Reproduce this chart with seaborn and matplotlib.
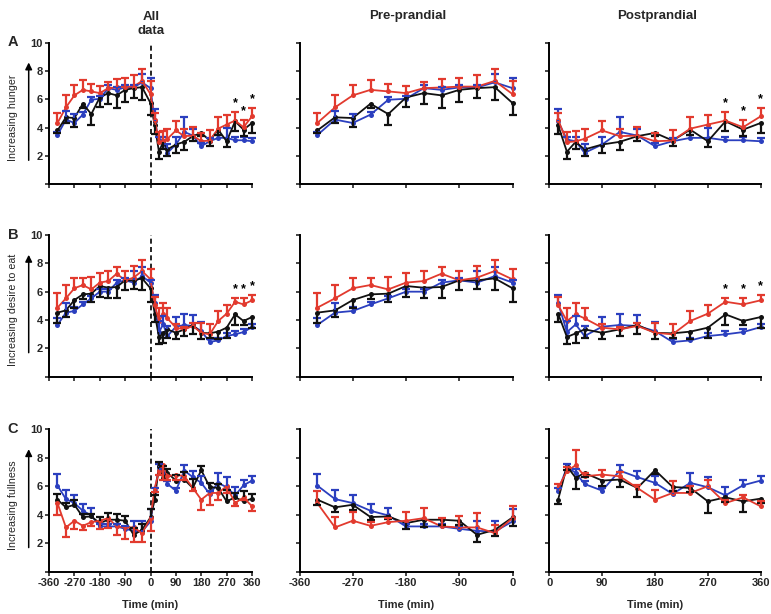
import matplotlib
matplotlib.use("Agg")
import matplotlib.pyplot as plt
import seaborn as sns
import pandas as pd
import numpy as np

pre_time = [-330, -300, -270, -240, -210, -180, -150, -120, -90, -60, -30, 0]
post_time = [15, 30, 45, 60, 90, 120, 150, 180, 210, 240, 270, 300, 330, 360]

groups = ["blue", "black", "red"]
colors = {"red": "#e23a2e", "blue": "#2b3fbf", "black": "#111111"}

# row A - hunger
hunger_pre_red = [4.33, 5.43, 6.28, 6.67, 6.56, 6.44, 6.79, 6.84, 6.9, 6.9, 7.3, 6.37]
hunger_pre_red_err = [0.7, 0.85, 0.75, 0.7, 0.5, 0.5, 0.4, 0.6, 0.6, 0.8, 0.85, 0.9]
hunger_pre_blue = [3.47, 4.57, 4.33, 4.92, 5.97, 6.04, 6.79, 6.67, 6.84, 6.84, 7.2, 6.79]
hunger_pre_blue_err = [0.2, 0.6, 0.65, 0.2, 0.2, 0.2, 0.2, 0.2, 0.2, 0.2, 0.6, 0.75]
hunger_pre_black = [3.8, 4.73, 4.68, 5.69, 4.96, 6.13, 6.44, 6.28, 6.67, 6.79, 6.86, 5.74]
hunger_pre_black_err = [0.2, 0.4, 0.6, 0.3, 0.8, 0.7, 0.75, 0.9, 0.85, 0.7, 0.9, 0.87]

hunger_post_red = [4.57, 2.97, 3.04, 3.21, 3.8, 3.4, 3.44, 3.04, 3.09, 3.93, 4.22, 4.5, 4.03, 4.8]
hunger_post_red_err = [0.47, 0.73, 0.75, 0.73, 0.66, 0.54, 0.6, 0.59, 0.77, 0.82, 0.66, 0.6, 0.54, 0.59]
hunger_post_blue = [4.45, 3.16, 3.04, 2.22, 2.81, 3.7, 3.44, 2.69, 3.04, 3.28, 3.28, 3.11, 3.11, 3.04]
hunger_post_blue_err = [0.9, 0.2, 0.3, 0.6, 0.5, 1.03, 0.5, 0.2, 0.2, 0.2, 0.7, 0.2, 0.2, 0.2]
hunger_post_black = [4.17, 2.3, 3.0, 2.46, 2.81, 3.0, 3.4, 3.63, 3.09, 3.86, 3.04, 4.45, 3.86, 4.33]
hunger_post_black_err = [0.65, 0.54, 0.54, 0.47, 0.59, 0.6, 0.35, 0.2, 0.4, 0.35, 0.42, 0.66, 0.47, 0.7]

# row B - desire to eat
desire_pre_red = [4.87, 5.53, 6.24, 6.47, 6.16, 6.64, 6.75, 7.27, 6.8, 6.99, 7.46, 6.87]
desire_pre_red_err = [1.06, 0.94, 0.75, 0.52, 0.87, 0.68, 0.7, 0.47, 0.66, 0.85, 0.78, 0.73]
desire_pre_blue = [3.65, 4.52, 4.64, 5.1, 5.53, 6.0, 6.0, 6.64, 6.8, 6.64, 7.1, 6.64]
desire_pre_blue_err = [0.5, 0.7, 0.25, 0.2, 0.2, 0.2, 0.2, 0.2, 0.2, 0.8, 0.65, 0.2]
desire_pre_black = [4.52, 4.68, 5.41, 5.81, 5.86, 6.4, 6.28, 6.33, 6.8, 6.8, 6.94, 6.24]
desire_pre_black_err = [0.7, 0.47, 0.54, 0.35, 0.56, 0.78, 0.7, 0.8, 0.7, 0.64, 0.85, 0.94]

desire_post_red = [5.06, 3.93, 4.4, 4.12, 3.46, 3.34, 3.58, 3.1, 2.99, 3.93, 4.45, 5.29, 5.1, 5.39]
desire_post_red_err = [0.56, 0.9, 0.82, 0.75, 0.24, 0.2, 0.2, 0.7, 0.75, 0.7, 0.6, 0.28, 0.42, 0.38]
desire_post_blue = [5.22, 3.15, 3.69, 2.87, 3.53, 3.65, 3.58, 3.22, 2.45, 2.56, 2.87, 2.99, 3.15, 3.5]
desire_post_blue_err = [0.54, 0.8, 0.6, 0.7, 0.68, 0.8, 0.75, 0.66, 0.2, 0.2, 0.2, 0.2, 0.2, 0.2]
desire_post_black = [4.45, 2.8, 3.06, 3.34, 3.1, 3.34, 3.65, 3.1, 3.06, 3.18, 3.46, 4.4, 3.93, 4.21]
desire_post_black_err = [0.56, 0.47, 0.66, 0.59, 0.47, 0.47, 0.66, 0.47, 0.3, 0.54, 0.7, 0.75, 0.3, 0.75]

# row C - fullness
fullness_pre_red = [4.82, 3.11, 3.58, 3.22, 3.48, 3.58, 3.76, 3.18, 3.11, 3.11, 2.71, 3.76]
fullness_pre_red_err = [0.87, 0.7, 0.59, 0.3, 0.3, 0.6, 0.7, 0.6, 0.78, 1.0, 0.6, 0.87]
fullness_pre_blue = [6.05, 5.1, 4.82, 4.28, 3.95, 3.18, 3.18, 3.18, 3.01, 2.87, 2.82, 3.53]
fullness_pre_blue_err = [0.78, 0.61, 0.54, 0.47, 0.52, 0.2, 0.2, 0.2, 0.2, 0.66, 0.75, 0.9]
fullness_pre_black = [5.06, 4.52, 4.7, 3.84, 3.88, 3.41, 3.65, 3.65, 3.58, 2.59, 2.94, 3.81]
fullness_pre_black_err = [0.4, 0.3, 0.35, 0.2, 0.2, 0.4, 0.5, 0.4, 0.3, 0.5, 0.4, 0.6]

fullness_post_red = [5.88, 7.06, 7.48, 6.7, 6.82, 6.7, 5.88, 5.06, 5.53, 5.53, 6.0, 4.82, 5.22, 4.59]
fullness_post_red_err = [0.3, 0.3, 1.04, 0.24, 0.35, 0.28, 0.2, 0.7, 0.82, 0.47, 0.47, 0.24, 0.2, 0.35]
fullness_post_blue = [5.65, 7.34, 6.94, 6.16, 5.69, 7.1, 6.64, 6.24, 5.46, 6.24, 5.93, 5.36, 6.07, 6.4]
fullness_post_blue_err = [0.2, 0.24, 0.3, 0.2, 0.2, 0.38, 0.42, 0.47, 0.2, 0.7, 0.7, 0.56, 0.4, 0.3]
fullness_post_black = [5.06, 7.41, 6.59, 6.94, 6.4, 6.47, 5.88, 7.13, 5.95, 5.88, 4.94, 5.22, 4.94, 5.13]
fullness_post_black_err = [0.3, 0.3, 0.8, 0.3, 0.4, 0.54, 0.66, 0.3, 0.3, 0.3, 0.82, 0.3, 0.75, 0.3]

row_letters = ["A", "B", "C"]
row_labels = ["Increasing hunger", "Increasing desire to eat", "Increasing fullness"]
col_titles = ["All\ndata", "Pre-prandial", "Postprandial"]
star_times = [300, 330, 360]

rows = [
    {"pre": {"red": (hunger_pre_red, hunger_pre_red_err),
             "blue": (hunger_pre_blue, hunger_pre_blue_err),
             "black": (hunger_pre_black, hunger_pre_black_err)},
     "post": {"red": (hunger_post_red, hunger_post_red_err),
              "blue": (hunger_post_blue, hunger_post_blue_err),
              "black": (hunger_post_black, hunger_post_black_err)},
     "all_dir": {"red": 1, "blue": 1, "black": -1}, "stars": True},
    {"pre": {"red": (desire_pre_red, desire_pre_red_err),
             "blue": (desire_pre_blue, desire_pre_blue_err),
             "black": (desire_pre_black, desire_pre_black_err)},
     "post": {"red": (desire_post_red, desire_post_red_err),
              "blue": (desire_post_blue, desire_post_blue_err),
              "black": (desire_post_black, desire_post_black_err)},
     "all_dir": {"red": 1, "blue": 1, "black": -1}, "stars": True},
    {"pre": {"red": (fullness_pre_red, fullness_pre_red_err),
             "blue": (fullness_pre_blue, fullness_pre_blue_err),
             "black": (fullness_pre_black, fullness_pre_black_err)},
     "post": {"red": (fullness_post_red, fullness_post_red_err),
              "blue": (fullness_post_blue, fullness_post_blue_err),
              "black": (fullness_post_black, fullness_post_black_err)},
     "all_dir": {"red": -1, "blue": 1, "black": 1}, "stars": False},
]
split_dir = {"red": 1, "blue": 1, "black": -1}

sns.set_style("ticks")
plt.rcParams["font.family"] = ["Liberation Sans", "DejaVu Sans"]
plt.rcParams["font.weight"] = "bold"

W, H = 771, 614
fig = plt.figure(figsize=(W / 100, H / 100), dpi=100)

# axes boxes in pixels: (left, right), (top, bottom)
col_px = [(49, 252), (299.5, 512.5), (549.3, 760.7)]
row_px = [(42.7, 184.3), (235, 376.7), (429.3, 571.7)]
xlims = [(-360, 360), (-360, 0), (0, 360)]
xticks = [np.arange(-360, 361, 90), np.arange(-360, 1, 90), np.arange(0, 361, 90)]


def draw_panel(ax, times, series, dirs):
    df = pd.concat([pd.DataFrame({"Time": times, "Score": series[g][0], "Group": g})
                    for g in groups], ignore_index=True)
    sns.lineplot(data=df, x="Time", y="Score", hue="Group", hue_order=groups,
                 palette=colors, marker="o", markersize=3.6, markeredgewidth=0,
                 linewidth=1.3, errorbar=None, legend=False, ax=ax, clip_on=False)
    for g in groups:
        m = np.array(series[g][0])
        e = np.array(series[g][1])
        d = dirs[g]
        lo = e if d < 0 else np.zeros_like(e)
        up = e if d > 0 else np.zeros_like(e)
        ax.errorbar(times, m, yerr=[lo, up], fmt="none", ecolor=colors[g],
                    elinewidth=1.6, capsize=0, clip_on=False, zorder=3)
        ax.plot(times, m + d * e, linestyle="none", marker="_", markersize=5.5,
                markeredgewidth=1.6, color=colors[g], clip_on=False, zorder=3)


for r, row in enumerate(rows):
    for c in range(3):
        (l, rr), (t, b) = col_px[c], row_px[r]
        ax = fig.add_axes([l / W, 1 - b / H, (rr - l) / W, (b - t) / H])
        if c == 0:
            times = pre_time + post_time
            series = {g: (row["pre"][g][0] + row["post"][g][0],
                          row["pre"][g][1] + row["post"][g][1]) for g in groups}
            draw_panel(ax, times, series, row["all_dir"])
            ax.axvline(0, color="black", linestyle=(0, (3, 2)), linewidth=1.2, zorder=1)
        elif c == 1:
            times = pre_time
            series = row["pre"]
            draw_panel(ax, times, series, split_dir)
        else:
            times = post_time
            series = row["post"]
            draw_panel(ax, times, series, split_dir)

        if row["stars"] and c != 1:
            red_m, red_e = series["red"]
            for st in star_times:
                i = times.index(st)
                ax.text(st, red_m[i] + red_e[i] + 0.2, "*", ha="center", va="bottom",
                        fontsize=9, fontweight="bold", color="black")

        ax.set_xlim(*xlims[c])
        ax.set_ylim(0, 10)
        ax.set_xticks(xticks[c])
        ax.set_yticks(range(0, 11, 2))
        if c == 0:
            ax.set_yticklabels([""] + [str(v) for v in range(2, 11, 2)])
        else:
            ax.set_yticklabels([])
        if r == 2:
            ax.set_xticklabels([str(v) for v in xticks[c]])
            ax.set_xlabel("Time (min)", fontsize=8, fontweight="bold", labelpad=9)
        else:
            ax.set_xticklabels([])
            ax.set_xlabel("")
        ax.set_ylabel("")
        ax.tick_params(direction="out", length=3, width=1.2, labelsize=8, pad=1.5)
        sns.despine(ax=ax)
        for s in ("left", "bottom"):
            ax.spines[s].set_linewidth(1.4)
            ax.spines[s].set_color("black")

        if c == 0:
            ax.text(-0.177, 0.47, row_labels[r], transform=ax.transAxes, rotation=90,
                    ha="center", va="center", fontsize=7.7, fontweight="normal")
            ax.annotate("", xy=(-0.1, 0.88), xytext=(-0.1, 0.15), xycoords="axes fraction",
                        textcoords="axes fraction", annotation_clip=False,
                        arrowprops=dict(arrowstyle="-|>", color="black", lw=1.1,
                                        mutation_scale=10))
            fig.text(13 / W, 1 - (t - 0.5) / H, row_letters[r], ha="center", va="center",
                     fontsize=10.5, fontweight="bold")

# column titles
fig.text(151 / W, 1 - 24 / H, col_titles[0], ha="center", va="center", fontsize=9.5,
         fontweight="bold", linespacing=1.25)
fig.text(408 / W, 1 - 16 / H, col_titles[1], ha="center", va="center", fontsize=9.5,
         fontweight="bold")
fig.text(657 / W, 1 - 16 / H, col_titles[2], ha="center", va="center", fontsize=9.5,
         fontweight="bold")

fig.savefig("out.png", dpi=100)
